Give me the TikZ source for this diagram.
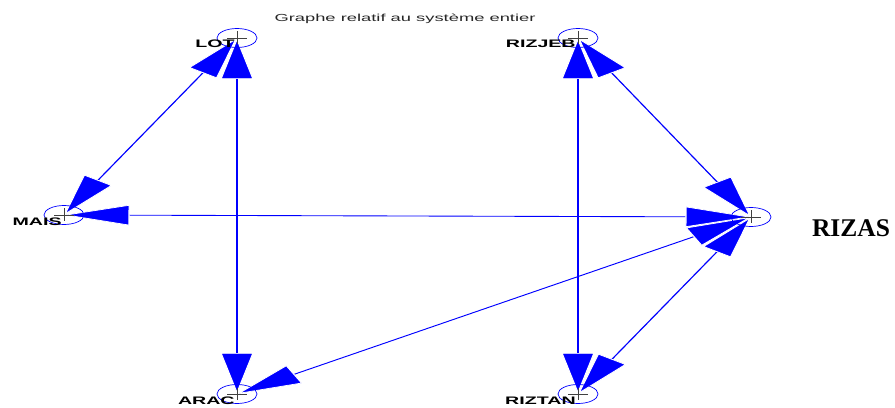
\documentclass[tikz,border=0pt]{standalone}
\usepackage{fontspec}
\usetikzlibrary{arrows.meta,shapes.geometric,calc,backgrounds}
\newfontfamily\etiqfont[FakeStretch=1.8]{Liberation Sans}
\newfontfamily\grandfont{Liberation Serif}

\tikzset{
  etat/.style={ellipse, draw=blue, line width=0.4pt, minimum width=0.8cm, minimum height=0.38cm, inner sep=0pt,
    path picture={\draw[black!75, line width=0.5pt]
      ([xshift=-0.2cm]path picture bounding box.center) -- ++(0.4cm,0)
      ([yshift=0.13cm]path picture bounding box.center) -- ++(0,-0.26cm);}},
  etiq/.style={font=\etiqfont\bfseries\fontsize{6.2}{7}\selectfont, inner sep=0pt, anchor=base east},
  fleche/.style={draw=blue, line width=0.5pt, <->,
    >={Triangle[length=0.82cm,width=0.41cm,fill=blue,color=white,line width=0.4pt]}}
}
% arete : les fleches sont tracees dans le repere des donnees (x etire de 1.6)
\newcommand{\arete}[2]{\draw[fleche] let \p1=(#1.center), \p2=(#2.center) in (\x1/1.6,\y1) -- (\x2/1.6,\y2);}

\begin{document}
\begin{tikzpicture}[x=0.02cm, y=-0.02cm]
\useasboundingbox (0,0) rectangle (895,408);

\node[font=\etiqfont\fontsize{5.8}{6}\selectfont, text=black!85, anchor=base] (titre) at (405,22) {Graphe relatif au système entier};

% les etats
\node[etat] (lot) at (237,38) {};
\node[etat] (rizjeb) at (578,38) {};
\node[etat] (mais) at (64,215) {};
\node[etat] (rizas) at (751,217) {};
\node[etat] (arac) at (237,394) {};
\node[etat] (riztan) at (578,394) {};

% les noms
\node[etiq] (lotlbl) at (235,48) {LOT};
\node[etiq] (rizjeblbl) at (576,48) {RIZJEB};
\node[etiq] (maislbl) at (62,226) {MAIS};
\node[etiq] (araclbl) at (235,404) {ARAC};
\node[etiq] (riztanlbl) at (576,404) {RIZTAN};
\node[font=\grandfont\bfseries\fontsize{14.5}{16}\selectfont, inner sep=0pt, anchor=base] (rizaslbl) at (851,237) {RIZAS};

% les relations
\begin{scope}[on background layer]
\begin{scope}[transform canvas={xscale=1.6}]
\arete{lot}{mais}
\arete{lot}{arac}
\arete{rizjeb}{riztan}
\arete{rizjeb}{rizas}
\arete{mais}{rizas}
\arete{rizas}{arac}
\arete{rizas}{riztan}
\end{scope}
\end{scope}

\end{tikzpicture}
\end{document}
